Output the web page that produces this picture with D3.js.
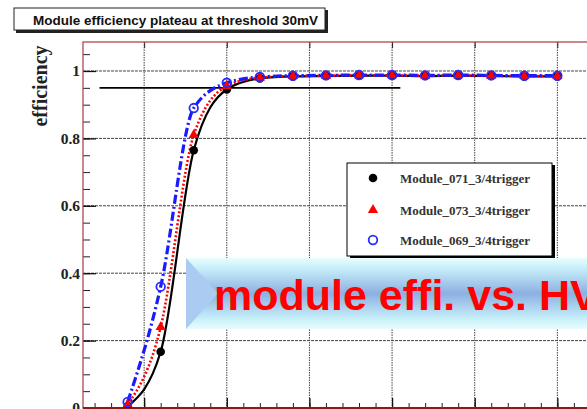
<!DOCTYPE html>
<html>
<head>
<meta charset="utf-8">
<script src="https://cdn.jsdelivr.net/npm/d3@7"></script>
<style>
  html, body { margin: 0; padding: 0; background: #fff; }
  svg { display: block; }
</style>
</head>
<body>
<svg id="chart" width="587" height="409"></svg>
<script>
// High-voltage scan points (V) and measured module efficiencies
const hv = [1640, 1660, 1680, 1700, 1720, 1740, 1760, 1780, 1800, 1820, 1840, 1860, 1880, 1900];
const eff071 = [0.005, 0.167, 0.765, 0.945, 0.978, 0.984, 0.985, 0.986, 0.986, 0.985, 0.986, 0.985, 0.984, 0.984];
const eff073 = [0.010, 0.240, 0.810, 0.955, 0.980, 0.985, 0.986, 0.987, 0.987, 0.986, 0.987, 0.986, 0.985, 0.985];
const eff069 = [0.018, 0.360, 0.890, 0.965, 0.982, 0.986, 0.987, 0.988, 0.988, 0.987, 0.988, 0.987, 0.986, 0.986];
const seriesNames = ["Module_071_3/4trigger", "Module_073_3/4trigger", "Module_069_3/4trigger"];
const yTickValues = [0, 0.2, 0.4, 0.6, 0.8, 1];
const yTickLabels = ["0", "0.2", "0.4", "0.6", "0.8", "1"];
const plateauLevel = 0.95;
const plateauSpan = [1623, 1805];
const titleText = "Module efficiency plateau at threshold 30mV";
const bannerText = "module effi. vs. HV";

const svg = d3.select("#chart");

const frame = { left: 83, top: 42, bottom: 408, right: 640 };
const x = d3.scaleLinear().domain([1613, 1950]).range([frame.left, frame.right]);
const y = d3.scaleLinear().domain([0, 1.086]).range([frame.bottom, frame.top]);

const defs = svg.append("defs");
defs.append("clipPath").attr("id", "plotClip")
  .append("rect")
  .attr("x", frame.left).attr("y", frame.top)
  .attr("width", frame.right - frame.left).attr("height", frame.bottom - frame.top);

const grad = defs.append("linearGradient").attr("id", "bannerGrad")
  .attr("x1", 0).attr("y1", 0).attr("x2", 0).attr("y2", 1);
grad.append("stop").attr("offset", "0%").attr("stop-color", "#e8fdff");
grad.append("stop").attr("offset", "14%").attr("stop-color", "#c8f0fa");
grad.append("stop").attr("offset", "50%").attr("stop-color", "#8cb0e1");
grad.append("stop").attr("offset", "86%").attr("stop-color", "#c8f0fa");
grad.append("stop").attr("offset", "100%").attr("stop-color", "#e8fdff");

// Grid
const majorX = d3.range(1650, 1951, 50);
const gridG = svg.append("g").attr("clip-path", "url(#plotClip)");
gridG.selectAll("line.vg").data(majorX).join("line")
  .attr("x1", d => x(d)).attr("x2", d => x(d))
  .attr("y1", frame.top).attr("y2", frame.bottom)
  .attr("stroke", "#444").attr("stroke-width", 1).attr("stroke-dasharray", "1.5,1");
gridG.selectAll("line.hg").data(yTickValues.slice(1)).join("line")
  .attr("x1", frame.left).attr("x2", frame.right)
  .attr("y1", d => y(d)).attr("y2", d => y(d))
  .attr("stroke", "#444").attr("stroke-width", 1).attr("stroke-dasharray", "3,1");

// Axes (ticks drawn inward)
const yMinor = d3.range(0, 1.0861, 0.05).map(v => +v.toFixed(2));
svg.append("g").attr("transform", `translate(${frame.left},0)`)
  .call(d3.axisLeft(y).tickValues(yMinor).tickSize(-7).tickFormat(""))
  .call(g => g.select(".domain").remove())
  .call(g => g.selectAll("line").attr("stroke", "#222"));

const yAxis = svg.append("g").attr("transform", `translate(${frame.left},0)`)
  .call(d3.axisLeft(y).tickValues(yTickValues).tickSize(-13).tickPadding(3)
    .tickFormat((d, i) => yTickLabels[i]))
  .call(g => g.select(".domain").remove());
yAxis.selectAll("line").attr("stroke", "#111").attr("stroke-width", 1.3);
yAxis.selectAll("text")
  .attr("font-family", "'Liberation Serif', 'DejaVu Serif', serif")
  .attr("font-weight", "bold").attr("font-size", 15.5).attr("fill", "#222");

const xMinor = d3.range(1620, 1951, 10);
svg.append("g").attr("transform", `translate(0,${frame.bottom})`)
  .call(d3.axisBottom(x).tickValues(xMinor).tickSize(-5).tickFormat(""))
  .call(g => g.select(".domain").remove())
  .call(g => g.selectAll("line").attr("stroke", "#222"));
svg.append("g").attr("transform", `translate(0,${frame.bottom})`)
  .call(d3.axisBottom(x).tickValues(majorX).tickSize(-10).tickFormat(""))
  .call(g => g.select(".domain").remove())
  .call(g => g.selectAll("line").attr("stroke", "#111").attr("stroke-width", 1.3));
svg.append("g").attr("transform", `translate(0,${frame.top})`)
  .call(d3.axisTop(x).tickValues(majorX).tickSize(-6).tickFormat(""))
  .call(g => g.select(".domain").remove())
  .call(g => g.selectAll("line").attr("stroke", "#222"));

// Frame
svg.append("rect")
  .attr("x", frame.left).attr("y", frame.top)
  .attr("width", frame.right - frame.left).attr("height", frame.bottom - frame.top)
  .attr("fill", "none").attr("stroke", "#b04a4a").attr("stroke-width", 1.3);
svg.append("line")
  .attr("x1", frame.left).attr("x2", frame.right)
  .attr("y1", frame.bottom).attr("y2", frame.bottom)
  .attr("stroke", "#8a1a1a").attr("stroke-width", 2);

// Y axis title
svg.append("text")
  .attr("transform", `translate(47,86) rotate(-90)`)
  .attr("text-anchor", "middle")
  .attr("font-family", "'Liberation Serif', 'DejaVu Serif', serif")
  .attr("font-weight", "bold").attr("font-size", 20).attr("fill", "#222")
  .text("efficiency");

// 95% reference line
svg.append("line")
  .attr("x1", x(plateauSpan[0])).attr("x2", x(plateauSpan[1]))
  .attr("y1", y(plateauLevel)).attr("y2", y(plateauLevel))
  .attr("stroke", "#000").attr("stroke-width", 1.6);

// Curves and markers
const series = [
  { values: eff071, color: "#000", dash: null, width: 2.2 },
  { values: eff073, color: "#ff0000", dash: "2,2", width: 2.6 },
  { values: eff069, color: "#1a1aff", dash: "9,3,2,3", width: 3.2 }
];
const line = d3.line().x(d => x(d[0])).y(d => y(d[1])).curve(d3.curveMonotoneX);
const plotG = svg.append("g").attr("clip-path", "url(#plotClip)");
series.forEach(s => {
  plotG.append("path")
    .datum(hv.map((h, i) => [h, s.values[i]]))
    .attr("d", line)
    .attr("fill", "none").attr("stroke", s.color)
    .attr("stroke-width", s.width)
    .attr("stroke-dasharray", s.dash);
});

const tri = d3.symbol().type(d3.symbolTriangle).size(46);
function drawMarker(g, idx, cx, cy) {
  if (idx === 0) {
    g.append("circle").attr("cx", cx).attr("cy", cy).attr("r", 4.3).attr("fill", "#000");
  } else if (idx === 1) {
    g.append("path").attr("d", tri).attr("transform", `translate(${cx},${cy})`).attr("fill", "#ff0000");
  } else {
    g.append("circle").attr("cx", cx).attr("cy", cy).attr("r", 4.3)
      .attr("fill", "none").attr("stroke", "#2a2aff").attr("stroke-width", 1.8);
  }
}
series.forEach((s, si) => {
  hv.forEach((h, i) => drawMarker(plotG, si, x(h), y(s.values[i])));
});

// Legend
const lg = svg.append("g");
lg.append("rect").attr("x", 350).attr("y", 165).attr("width", 205).attr("height", 93).attr("fill", "#000");
lg.append("rect").attr("x", 347).attr("y", 163).attr("width", 205).attr("height", 93)
  .attr("fill", "#fff").attr("stroke", "#000").attr("stroke-width", 1);
const legendY = [178, 210, 240];
seriesNames.forEach((name, i) => {
  drawMarker(lg, i, 373, legendY[i]);
  lg.append("text").attr("x", 400).attr("y", legendY[i]).attr("dy", "0.35em")
    .attr("font-family", "'Liberation Serif', 'DejaVu Serif', serif")
    .attr("font-weight", "bold").attr("font-size", 13).attr("fill", "#333")
    .text(name);
});

// Title box
svg.append("rect").attr("x", 16).attr("y", 10).attr("width", 312).attr("height", 23).attr("fill", "#222");
svg.append("rect").attr("x", 14).attr("y", 8).attr("width", 311).attr("height", 22)
  .attr("fill", "#fff").attr("stroke", "#222").attr("stroke-width", 1);
svg.append("text").attr("x", 33).attr("y", 25)
  .attr("font-family", "'Liberation Sans', Arial, sans-serif")
  .attr("font-weight", "bold").attr("font-size", 13.5).attr("fill", "#111")
  .text(titleText);

// Banner overlay
const banner = svg.append("g");
banner.append("rect").attr("x", 186).attr("y", 258).attr("width", 420).attr("height", 71)
  .attr("fill", "url(#bannerGrad)");
banner.append("path").attr("d", "M186,258 L218,293.5 L186,329 Z").attr("fill", "#abcbf3");
banner.append("text").attr("x", 214).attr("y", 310)
  .attr("font-family", "'Liberation Sans', Arial, sans-serif")
  .attr("font-weight", "bold").attr("font-size", 43).attr("fill", "#ff0000")
  .text(bannerText);
</script>
</body>
</html>
